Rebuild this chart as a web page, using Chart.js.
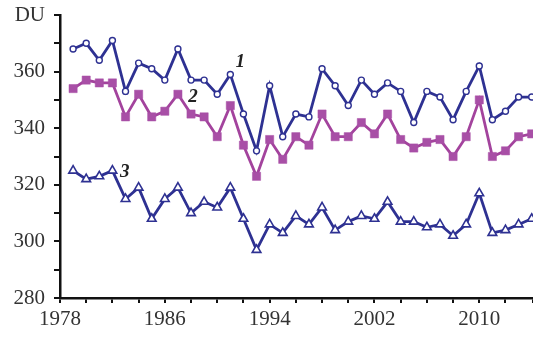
<!DOCTYPE html>
<html>
<head>
<meta charset="utf-8">
<script src="https://cdn.jsdelivr.net/npm/chart.js@4.4.1/dist/chart.umd.min.js"></script>
<style>
  html, body { margin: 0; padding: 0; background: #fff; }
  #wrap { width: 533px; height: 341px; position: relative; }
</style>
</head>
<body>
<div id="wrap"><canvas id="c" width="533" height="341"></canvas></div>
<script>
// Years of observation
const years = [1979,1980,1981,1982,1983,1984,1985,1986,1987,1988,1989,1990,
  1991,1992,1993,1994,1995,1996,1997,1998,1999,2000,2001,2002,2003,2004,2005,
  2006,2007,2008,2009,2010,2011,2012,2013,2014];

// Total ozone, DU
const series1 = [368,370,364,371,353,363,361,357,368,357,357,352,
  359,345,332,355,337,345,344,361,355,348,357,352,356,353,342,
  353,351,343,353,362,343,346,351,351];
const series2 = [354,357,356,356,344,352,344,346,352,345,344,337,
  348,334,323,336,329,337,334,345,337,337,342,338,345,336,333,
  335,336,330,337,350,330,332,337,338];
const series3 = [325,322,323,325,315,319,308,315,319,310,314,312,
  319,308,297,306,303,309,306,312,304,307,309,308,314,307,307,
  305,306,302,306,317,303,304,306,308];

// Series numbers placed beside the curves (x in years, y in DU)
const seriesTags = [
  { text: '1', x: 1991.75, y: 363.3 },
  { text: '2', x: 1988.15, y: 350.9 },
  { text: '3', x: 1982.95, y: 324.4 }
];

const BLUE = '#2E3192';
const MAGENTA = '#A3439D';

const toPoints = arr => arr.map((v, i) => ({ x: years[i], y: v }));

const tagPlugin = {
  id: 'seriesTags',
  afterDatasetsDraw(chart) {
    const { ctx, scales } = chart;
    ctx.save();
    ctx.fillStyle = '#222';
    ctx.font = 'italic bold 19px "Liberation Serif", "DejaVu Serif", serif';
    ctx.textAlign = 'center';
    ctx.textBaseline = 'middle';
    seriesTags.forEach(t => {
      ctx.fillText(t.text, scales.x.getPixelForValue(t.x), scales.y.getPixelForValue(t.y));
    });
    ctx.restore();
  }
};

new Chart(document.getElementById('c'), {
  type: 'line',
  data: {
    datasets: [
      {
        data: toPoints(series1),
        borderColor: BLUE, borderWidth: 2.8,
        pointStyle: 'circle', pointRadius: 3, pointBorderWidth: 1.4,
        pointBackgroundColor: '#fff', pointBorderColor: BLUE,
        tension: 0, clip: false
      },
      {
        data: toPoints(series2),
        borderColor: MAGENTA, borderWidth: 2.8,
        pointStyle: 'rect', pointRadius: 5.8, pointBorderWidth: 0.5,
        pointBackgroundColor: '#A84FA6', pointBorderColor: '#A84FA6',
        tension: 0, clip: false
      },
      {
        data: toPoints(series3),
        borderColor: BLUE, borderWidth: 2.8,
        pointStyle: 'triangle', pointRadius: 5, pointBorderWidth: 1.6,
        pointBackgroundColor: '#fff', pointBorderColor: BLUE,
        tension: 0, clip: false
      }
    ]
  },
  options: {
    responsive: false,
    animation: false,
    layout: { autoPadding: false, padding: { top: 15, right: 0, left: 0, bottom: 0 } },
    plugins: { legend: { display: false }, tooltip: { enabled: false } },
    scales: {
      x: {
        type: 'linear',
        min: 1978, max: 2014.1,
        afterFit(s) { s.height = 43; s.paddingRight = 0; },
        border: { display: true, color: '#111', width: 2.5 },
        grid: { drawOnChartArea: false, drawTicks: true, tickLength: 5, tickColor: '#111', lineWidth: 2 },
        ticks: {
          stepSize: 2,
          autoSkip: false,
          maxRotation: 0,
          padding: 4,
          color: '#333',
          font: { family: '"Liberation Serif", "DejaVu Serif", serif', size: 21 },
          callback: v => ((v - 1978) % 8 === 0 ? String(v) : '')
        }
      },
      y: {
        min: 280, max: 380,
        afterFit(s) { s.width = 60; s.paddingTop = 0; s.paddingBottom = 0; },
        border: { display: true, color: '#111', width: 2.5 },
        grid: { drawOnChartArea: false, drawTicks: true, tickLength: 6, tickColor: '#111', lineWidth: 2 },
        ticks: {
          stepSize: 10,
          autoSkip: false,
          padding: 9,
          color: '#333',
          font: { family: '"Liberation Serif", "DejaVu Serif", serif', size: 21 },
          callback: v => (v === 380 ? 'DU' : (v % 20 === 0 ? String(v) : ''))
        }
      }
    }
  },
  plugins: [tagPlugin]
});
</script>
</body>
</html>
